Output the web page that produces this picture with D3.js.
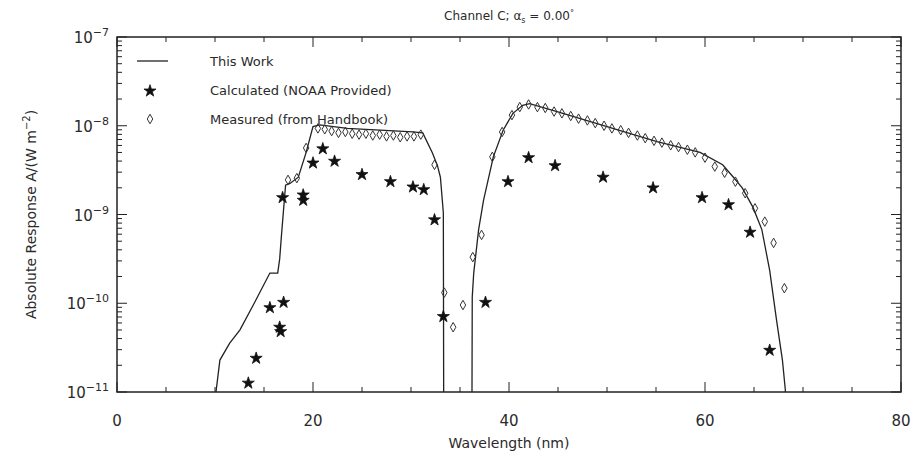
<!DOCTYPE html>
<html>
<head>
<meta charset="utf-8">
<script src="https://cdn.jsdelivr.net/npm/d3@7"></script>
<style>
  body { margin: 0; background: #fff; }
  svg { display: block; }
  text { font-family: "DejaVu Sans", sans-serif; fill: #2a2a2a; }
</style>
</head>
<body>
<div id="chart"></div>
<script>
// "This Work" curve: wavelength (nm) and log10 of response
const lineX = [10.0, 10.1, 10.5, 11.5, 12.55, 14.0, 15.6, 16.4, 16.6, 16.8, 17.2, 17.65, 18.5, 19.3, 20.0, 20.7, 23.5, 26.8, 30.2, 31.2, 32.2, 32.7, 33.0, 33.3, 33.35,
  36.2, 36.25, 36.4, 36.9, 37.4, 38.4, 39.4, 40.4, 41.4, 42.1, 44.9, 50.0, 55.1, 59.5, 61.8, 62.9, 63.8, 64.9, 65.8, 66.6, 67.3, 67.9, 68.2, 68.3];
const lineLog = [-12, -11.0, -10.64, -10.45, -10.30, -10.0, -9.66, -9.66, -9.5, -9.21, -8.67, -8.65, -8.58, -8.3, -8.01, -7.99, -8.03, -8.05, -8.07, -8.08, -8.31, -8.45, -8.58, -8.98, -12,
  -12, -9.93, -9.66, -9.17, -8.84, -8.35, -8.05, -7.86, -7.77, -7.75, -7.84, -8.01, -8.18, -8.30, -8.44, -8.58, -8.7, -8.92, -9.17, -9.63, -10.19, -10.64, -10.98, -12];

// Calculated (NOAA provided)
const calcX = [13.4, 14.2, 15.6, 16.6, 16.7, 17.0, 16.9, 19.0, 19.0, 20.0, 21.0, 22.2, 25.0, 27.9, 30.2, 31.3, 32.4, 33.3,
  37.6, 39.9, 42.0, 44.7, 49.6, 54.7, 59.7, 62.4, 64.6, 66.6];
const calcLog = [-10.90, -10.62, -10.05, -10.27, -10.32, -9.99, -8.81, -8.78, -8.84, -8.42, -8.26, -8.40, -8.55, -8.63, -8.69, -8.72, -9.06, -10.15,
  -9.99, -8.63, -8.36, -8.45, -8.58, -8.70, -8.81, -8.89, -9.20, -10.53];

// Measured (from Handbook)
const measX = [17.45, 18.35, 19.3, 20.5, 21.2, 21.9, 22.6, 23.3, 24.0, 24.7, 25.4, 26.1, 26.8, 27.5, 28.2, 28.9, 29.6, 30.3, 31.0, 32.4, 33.4, 34.3, 35.3,
  36.3, 37.2, 38.3, 39.3, 40.3, 41.1, 42.0, 42.9, 43.7, 44.6, 45.4, 46.3, 47.1, 48.0, 48.8, 49.7, 50.5, 51.4, 52.2, 53.1, 53.9, 54.8, 55.6, 56.5, 57.3, 58.2, 59.0,
  60.0, 61.0, 62.0, 63.1, 64.1, 65.1, 66.1, 67.0, 68.1];
const measLog = [-8.61, -8.59, -8.25, -8.03, -8.04, -8.06, -8.08, -8.07, -8.09, -8.10, -8.09, -8.11, -8.10, -8.12, -8.11, -8.13, -8.12, -8.12, -8.10, -8.44, -9.88, -10.27, -10.02,
  -9.48, -9.23, -8.35, -8.07, -7.88, -7.79, -7.76, -7.79, -7.80, -7.84, -7.86, -7.89, -7.92, -7.94, -7.97, -8.00, -8.03, -8.05, -8.08, -8.11, -8.14, -8.17, -8.19, -8.22, -8.24, -8.27, -8.30,
  -8.36, -8.46, -8.53, -8.63, -8.76, -8.93, -9.08, -9.32, -9.83];

const xTicks = [0, 20, 40, 60, 80];
const yExponents = [-11, -10, -9, -8, -7];

const W = 912, H = 462;
const m = { left: 117, right: 11, top: 37, bottom: 70 };

const svg = d3.select('#chart').append('svg')
  .attr('width', W)
  .attr('height', H);

const x = d3.scaleLinear().domain([0, 80]).range([m.left, W - m.right]);
const y = d3.scaleLog().domain([1e-11, 1e-7]).range([H - m.bottom, m.top]);

const ink = '#222';

svg.append('clipPath').attr('id', 'clip')
  .append('rect')
  .attr('x', m.left).attr('y', m.top)
  .attr('width', W - m.left - m.right)
  .attr('height', H - m.top - m.bottom);

// Line
const lineData = lineX.map((d, i) => [d, Math.pow(10, lineLog[i])]);
svg.append('path')
  .datum(lineData)
  .attr('clip-path', 'url(#clip)')
  .attr('fill', 'none')
  .attr('stroke', ink)
  .attr('stroke-width', 1.3)
  .attr('d', d3.line().x(d => x(d[0])).y(d => y(d[1])));

// Measured: open diamonds
const diamond = d3.symbol().type(d3.symbolDiamond).size(26);
svg.append('g').selectAll('path')
  .data(measX.map((d, i) => [d, Math.pow(10, measLog[i])]))
  .join('path')
  .attr('transform', d => `translate(${x(d[0])},${y(d[1])})`)
  .attr('d', diamond)
  .attr('fill', 'none')
  .attr('stroke', '#333')
  .attr('stroke-width', 1);

// Calculated: filled stars
const star = d3.symbol().type(d3.symbolStar).size(45);
svg.append('g').selectAll('path')
  .data(calcX.map((d, i) => [d, Math.pow(10, calcLog[i])]))
  .join('path')
  .attr('transform', d => `translate(${x(d[0])},${y(d[1])})`)
  .attr('d', star)
  .attr('fill', '#111')
  .attr('stroke', '#111')
  .attr('stroke-width', 0.8);

// Frame
svg.append('rect')
  .attr('x', m.left).attr('y', m.top)
  .attr('width', W - m.left - m.right)
  .attr('height', H - m.top - m.bottom)
  .attr('fill', 'none')
  .attr('stroke', ink)
  .attr('stroke-width', 1.5);

// x ticks, inward on bottom and top
const xt = svg.append('g').attr('stroke', ink).attr('stroke-width', 1);
d3.range(0, 81, 5).forEach(v => {
  const len = v % 20 === 0 ? 10 : 5;
  xt.append('line').attr('x1', x(v)).attr('x2', x(v))
    .attr('y1', H - m.bottom).attr('y2', H - m.bottom - len);
  xt.append('line').attr('x1', x(v)).attr('x2', x(v))
    .attr('y1', m.top).attr('y2', m.top + len);
});
svg.append('g').selectAll('text')
  .data(xTicks)
  .join('text')
  .attr('x', d => x(d))
  .attr('y', H - m.bottom + 34)
  .attr('text-anchor', 'middle')
  .attr('font-size', 15)
  .text(d => d);

// y ticks (log minors) on left and right
const yt = svg.append('g').attr('stroke', ink).attr('stroke-width', 1);
yExponents.forEach(e => {
  for (let k = 1; k <= 9; k++) {
    const v = k * Math.pow(10, e);
    if (v > 1e-7 * 1.0001) break;
    const len = k === 1 ? 10 : 5;
    yt.append('line').attr('x1', m.left).attr('x2', m.left + len)
      .attr('y1', y(v)).attr('y2', y(v));
    yt.append('line').attr('x1', W - m.right).attr('x2', W - m.right - len)
      .attr('y1', y(v)).attr('y2', y(v));
  }
});
const yl = svg.append('g').selectAll('text')
  .data(yExponents)
  .join('text')
  .attr('x', m.left - 8)
  .attr('y', d => y(Math.pow(10, d)) + 6)
  .attr('text-anchor', 'end')
  .attr('font-size', 15);
yl.append('tspan').text('10');
yl.append('tspan').attr('dy', -7).attr('font-size', 11).text(d => '\u2212' + (-d));

// axis titles
svg.append('text')
  .attr('x', (m.left + W - m.right) / 2)
  .attr('y', H - 14)
  .attr('text-anchor', 'middle')
  .attr('font-size', 14)
  .text('Wavelength (nm)');

const yTitle = svg.append('text')
  .attr('transform', `translate(36,${(m.top + H - m.bottom) / 2}) rotate(-90)`)
  .attr('text-anchor', 'middle')
  .attr('font-size', 14);
yTitle.append('tspan').text('Absolute Response A/(W m');
yTitle.append('tspan').attr('dy', -6).attr('font-size', 10).text('\u22122');
yTitle.append('tspan').attr('dy', 6).text(')');

// title
const title = svg.append('text')
  .attr('x', (m.left + W - m.right) / 2)
  .attr('y', 20)
  .attr('text-anchor', 'middle')
  .attr('font-size', 12);
title.append('tspan').text('Channel C; \u03b1');
title.append('tspan').attr('dy', 3).attr('font-size', 8).text('s');
title.append('tspan').attr('dy', -3).text(' = 0.00');
title.append('tspan').attr('dy', -4).attr('font-size', 8).text('\u00b0');

// legend
const lg = svg.append('g');
lg.append('line').attr('x1', 137).attr('x2', 168).attr('y1', 61).attr('y2', 61)
  .attr('stroke', ink).attr('stroke-width', 1.3);
lg.append('path').attr('transform', 'translate(150,91)').attr('d', star)
  .attr('fill', '#111').attr('stroke', '#111').attr('stroke-width', 0.8);
lg.append('path').attr('transform', 'translate(150,119)').attr('d', diamond)
  .attr('fill', 'none').attr('stroke', '#333');
const legendText = ['This Work', 'Calculated (NOAA Provided)', 'Measured (from Handbook)'];
lg.selectAll('text')
  .data(legendText)
  .join('text')
  .attr('x', 210)
  .attr('y', (d, i) => 66 + i * 29)
  .attr('font-size', 13)
  .text(d => d);
</script>
</body>
</html>
